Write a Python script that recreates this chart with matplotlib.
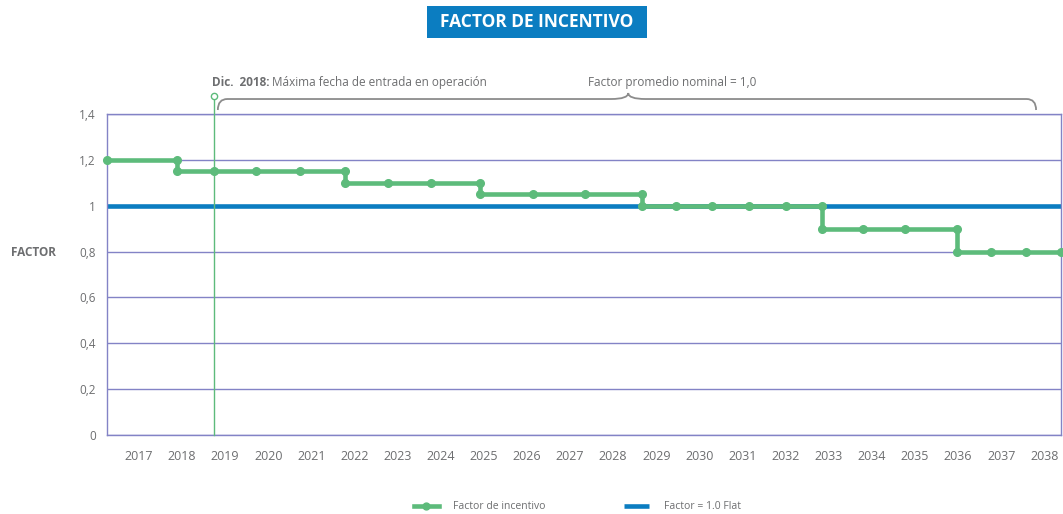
import matplotlib
matplotlib.use('Agg')
import matplotlib.pyplot as plt
import matplotlib.transforms as mtransforms
from matplotlib.patches import Rectangle, PathPatch
from matplotlib.path import Path

plt.rcParams['font.family'] = ['Open Sans', 'DejaVu Sans']

GREEN = '#5dbb7b'
BLUE = '#0b7dc1'
GRID = '#8383c6'
GRAY = '#6d6e70'

years = list(range(2017, 2039))

# incentive factor path; a repeated x is a step down
factor_x = [2016.26, 2017.88, 2017.88, 2018.74, 2019.71, 2020.74, 2021.78, 2021.78,
            2022.78, 2023.77, 2024.91, 2024.91, 2026.14, 2027.35, 2028.67, 2028.67,
            2029.46, 2030.29, 2031.15, 2032.01, 2032.85, 2032.85, 2033.80, 2034.77,
            2035.98, 2035.98, 2036.77, 2037.58, 2038.39]
factor_y = [1.20, 1.20, 1.15, 1.15, 1.15, 1.15, 1.15, 1.10,
            1.10, 1.10, 1.10, 1.05, 1.05, 1.05, 1.05, 1.00,
            1.00, 1.00, 1.00, 1.00, 1.00, 0.90, 0.90, 0.90,
            0.90, 0.80, 0.80, 0.80, 0.80]
flat_factor = 1.0
cod_deadline = 2018.74   # Dic. 2018

yticks = [0, 0.2, 0.4, 0.6, 0.8, 1.0, 1.2, 1.4]
ytick_labels = ['0', '0,2', '0,4', '0,6', '0,8', '1', '1,2', '1,4']

fig = plt.figure(figsize=(10.63, 5.14), dpi=100)
ax = fig.add_axes([0.1007, 0.1537, 0.8975, 0.6245])

flat, = ax.plot([2016.26, 2038.39], [flat_factor, flat_factor], color=BLUE, lw=3.3,
                solid_capstyle='butt', zorder=2)
inc, = ax.plot(factor_x, factor_y, color=GREEN, lw=3.3, marker='o', ms=5.5,
               zorder=3, clip_on=False)

# deadline marker line
top = 1.478
ax.plot([cod_deadline, cod_deadline], [0, top], color=GREEN, lw=1, zorder=4, clip_on=False)
ax.plot([cod_deadline], [top], marker='o', ms=4.5, mfc='white', mec=GREEN, mew=1,
        zorder=5, clip_on=False)

ax.set_xlim(2016.26, 2038.39)
ax.set_ylim(0, 1.4)
ax.set_xticks(years)
ax.set_xticklabels([str(y) for y in years])
ax.set_yticks(yticks)
ax.set_yticklabels(ytick_labels)
ax.tick_params(axis='x', length=0, pad=11, labelsize=9, labelcolor=GRAY)
ax.tick_params(axis='y', length=0, pad=8, labelsize=8.5, labelcolor=GRAY)
ax.yaxis.grid(True, color=GRID, lw=1, zorder=0)
ax.set_axisbelow(True)
for s in ax.spines.values():
    s.set_color(GRID)
    s.set_linewidth(1)

# brace over the evaluation period
trans = mtransforms.blended_transform_factory(ax.transData, ax.transAxes)
x0, x1, xt = 2018.83, 2037.81, 2028.35
ye, yh, ytip = 1.0125, 1.0467, 1.0654
r, r2 = 0.22, 0.4
verts = [(x0, ye), (x0, yh), (x0 + r, yh), (xt - r2, yh), (xt, yh), (xt, ytip),
         (xt, yh), (xt + r2, yh), (x1 - r, yh), (x1, yh), (x1, ye)]
codes = [Path.MOVETO, Path.CURVE3, Path.CURVE3, Path.LINETO, Path.CURVE3, Path.CURVE3,
         Path.CURVE3, Path.CURVE3, Path.LINETO, Path.CURVE3, Path.CURVE3]
ax.add_patch(PathPatch(Path(verts, codes), transform=trans, fill=False,
                       edgecolor='#8c8c8c', lw=1.3, clip_on=False))

t1 = ax.text(cod_deadline - 0.05, 1.0997, 'Dic.  2018:', transform=trans, ha='left',
             va='center', fontsize=8.5, fontweight='bold', color=GRAY)
ax.annotate(' Máxima fecha de entrada en operación', xy=(1, 0.5), xycoords=t1,
            ha='left', va='center', fontsize=8.5, color=GRAY)
ax.text(2029.37, 1.0997, 'Factor promedio nominal = 1,0', transform=trans, ha='center',
        va='center', fontsize=8.5, color=GRAY)

fig.text(33 / 1063, 1 - 253 / 514, 'FACTOR', ha='center', va='center', fontsize=8.5,
         fontweight='bold', color=GRAY)

# title box
fig.patches.append(Rectangle((427 / 1063, 1 - 38 / 514), 220 / 1063, 32 / 514,
                             transform=fig.transFigure, facecolor=BLUE, edgecolor='none'))
fig.text(537 / 1063, 1 - 22 / 514, 'FACTOR DE INCENTIVO', ha='center', va='center',
         fontsize=12.5, fontweight='bold', color='white')

fig.legend([inc, flat], ['Factor de incentivo', 'Factor = 1.0 Flat'], loc='center',
           bbox_to_anchor=(0.543, 0.014), ncol=2, frameon=False, fontsize=7.5,
           labelcolor=GRAY, handlelength=2.4, handletextpad=1.4, columnspacing=7.5,
           markerscale=0.9)

fig.savefig('out.png', dpi=100)
